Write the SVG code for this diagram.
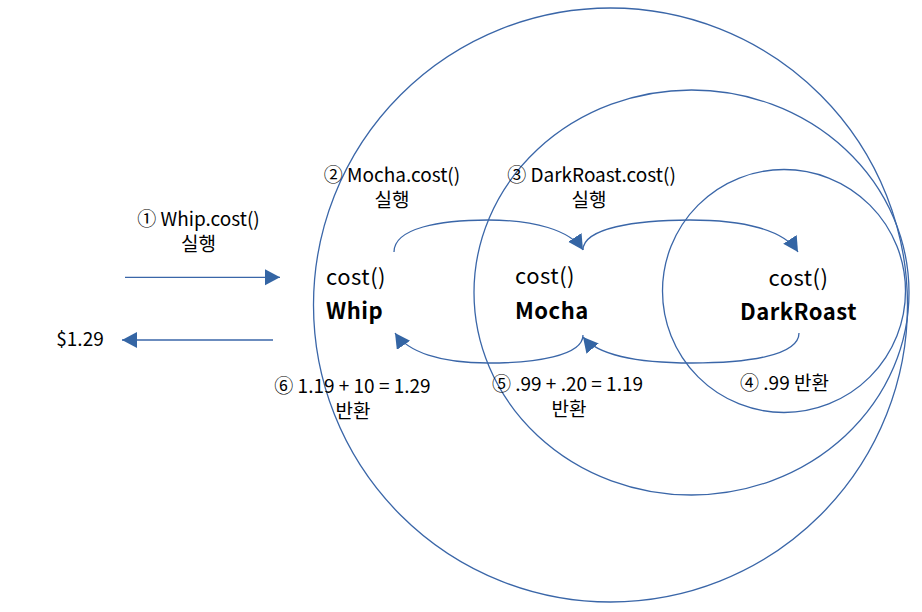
<svg xmlns="http://www.w3.org/2000/svg" width="922" height="612" viewBox="0 0 922 612">
<style>
.ring{fill:none;stroke:#3A66A8;stroke-width:1.3}
.conn{fill:none;stroke:#3A66A8;stroke-width:1.3}
.lbl{font-family:"Noto Sans CJK KR","Noto Sans",sans-serif;font-size:19px;fill:#000}
.nt{font-family:"Noto Sans CJK KR","Noto Sans",sans-serif;font-size:22px;letter-spacing:0.5px;fill:#000}
.nb{font-family:"Noto Sans CJK KR","Noto Sans",sans-serif;font-size:22px;letter-spacing:0.5px;font-weight:bold;fill:#000}
</style>
<defs>
<marker id="ah" markerUnits="userSpaceOnUse" markerWidth="18" markerHeight="18" refX="15" refY="8" orient="auto">
<path d="M0,0 L15,8 L0,16 Z" fill="#3465A4"/>
</marker>
</defs>
<rect width="922" height="612" fill="#fff"/>
<g id="whip">
<circle class="ring" cx="610.5" cy="305" r="297"/>
<text class="nt" x="326" y="285">cost()</text>
<text class="nb" x="326" y="319">Whip</text>
</g>
<g id="mocha">
<ellipse class="ring" cx="691.5" cy="292.5" rx="217.5" ry="202.5"/>
<text class="nt" x="515" y="284">cost()</text>
<text class="nb" x="515" y="319">Mocha</text>
</g>
<g id="darkroast">
<circle class="ring" cx="784" cy="291" r="121.5"/>
<text class="nt" x="798.5" y="286" text-anchor="middle">cost()</text>
<text class="nb" x="798.5" y="320" text-anchor="middle">DarkRoast</text>
</g>
<g id="connectors">
<path class="conn" d="M125,277.3 L280,277.3" marker-end="url(#ah)"/>
<path class="conn" d="M273,340 L122,340" marker-end="url(#ah)"/>
<path class="conn" d="M394,252 C394,228 440,220 488,220 C534,220 570,230 583,250" marker-end="url(#ah)"/>
<path class="conn" d="M583,250 C583,228 636,220 690,220 C744,220 784,230 798,252" marker-end="url(#ah)"/>
<path class="conn" d="M799,333 C799,356 746,363 692,363 C638,363 598,355 583,337" marker-end="url(#ah)"/>
<path class="conn" d="M583,335 C583,356 535,363 488,363 C440,363 408,352 395,333" marker-end="url(#ah)"/>
</g>
<g id="labels">
<text class="lbl" x="198.5" y="226" text-anchor="middle">① Whip.cost()</text>
<text class="lbl" x="198.5" y="251" text-anchor="middle">실행</text>
<text class="lbl" x="80" y="346" text-anchor="middle">$1.29</text>
<text class="lbl" x="392" y="182" text-anchor="middle">② Mocha.cost()</text>
<text class="lbl" x="392" y="207" text-anchor="middle">실행</text>
<text class="lbl" x="591.5" y="182" text-anchor="middle">③ DarkRoast.cost()</text>
<text class="lbl" x="589" y="207" text-anchor="middle">실행</text>
<text class="lbl" x="352.5" y="393" text-anchor="middle">⑥ 1.19 + 10 = 1.29</text>
<text class="lbl" x="353" y="418" text-anchor="middle">반환</text>
<text class="lbl" x="567.5" y="391" text-anchor="middle">⑤ .99 + .20 = 1.19</text>
<text class="lbl" x="569" y="416" text-anchor="middle">반환</text>
<text class="lbl" x="784.5" y="390" text-anchor="middle">④ .99 반환</text>
</g>
</svg>
